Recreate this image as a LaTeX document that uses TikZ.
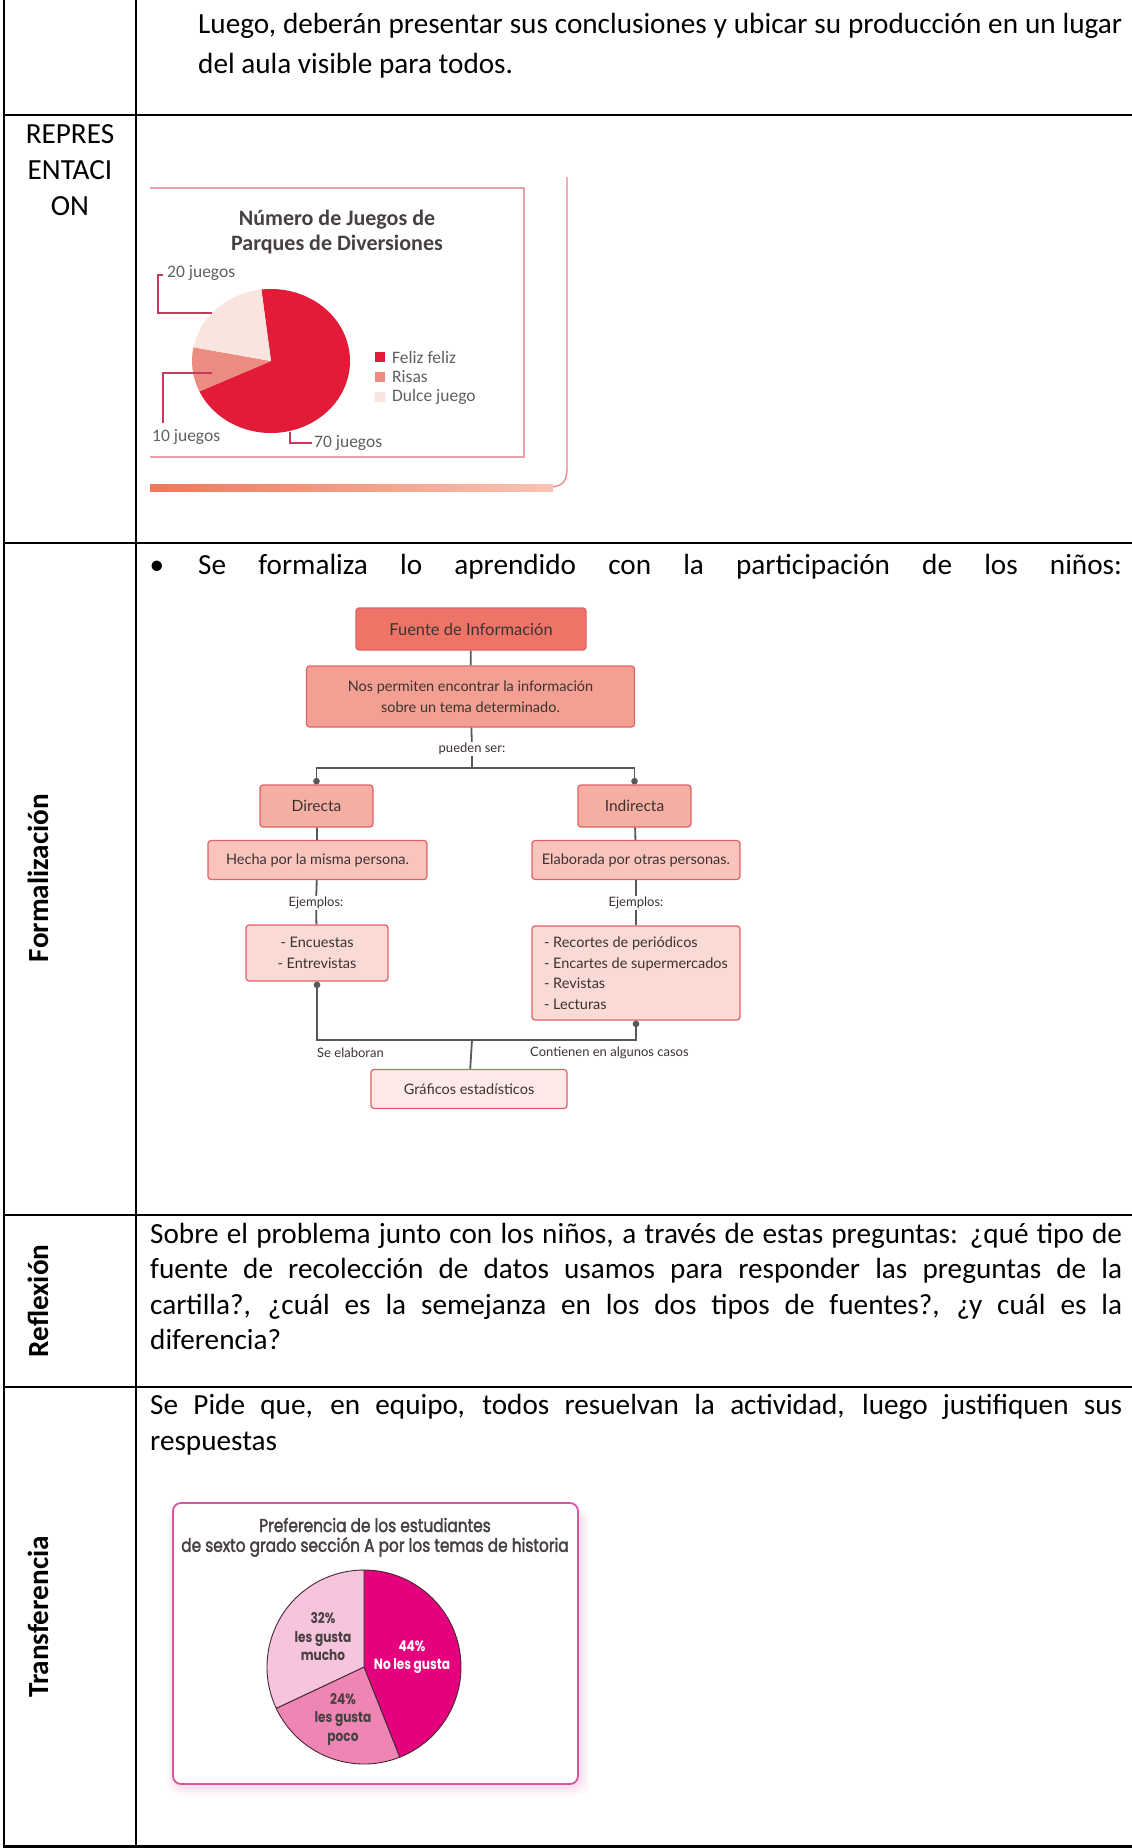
\documentclass[tikz,border=0pt]{standalone}
\usepackage{fontspec}
\setmainfont{Carlito}
\newfontfamily\flowfont{Lato}
\newfontfamily\geofont[FakeStretch=0.82]{Poppins}
\newfontfamily\geohead[FakeStretch=0.83,FakeBold=2]{Poppins}
\usetikzlibrary{arrows.meta}

% chart of the amusement park rides
\definecolor{pieRed}{RGB}{226,28,56}
\definecolor{pieSalmon}{RGB}{236,140,128}
\definecolor{pieBlush}{RGB}{250,228,224}
\definecolor{chartFrame}{RGB}{232,160,170}
\definecolor{leadCol}{RGB}{196,58,92}
\definecolor{bandL}{RGB}{238,120,90}
\definecolor{bandR}{RGB}{248,196,180}
\definecolor{titleGray}{RGB}{72,64,64}
\definecolor{labelGray}{RGB}{100,94,94}
% concept map
\definecolor{boxLine}{RGB}{222,96,104}
\definecolor{fillA}{RGB}{238,116,104}
\definecolor{fillB}{RGB}{243,160,146}
\definecolor{fillC}{RGB}{245,174,162}
\definecolor{fillD}{RGB}{248,196,188}
\definecolor{fillE}{RGB}{250,218,212}
\definecolor{fillF}{RGB}{253,234,230}
\definecolor{connCol}{RGB}{88,88,88}
\definecolor{flowText}{RGB}{60,50,50}
% preference chart
\definecolor{magPie}{RGB}{229,0,125}
\definecolor{midPie}{RGB}{238,133,181}
\definecolor{lightPie}{RGB}{246,196,221}
\definecolor{pieEdge}{RGB}{70,40,50}
\definecolor{frameMag}{RGB}{214,84,160}
\definecolor{glowPink}{RGB}{240,150,200}

\begin{document}
\begin{tikzpicture}[x=1pt,y=-1pt,
  rule/.style={line width=2.6pt, draw=black},
  body/.style={inner sep=0pt, anchor=base west, font=\fontsize{29.2}{35.6}\selectfont},
  side/.style={inner sep=0pt, rotate=90, font=\fontsize{29.2}{35.6}\selectfont\bfseries},
  ctitle/.style={inner sep=0pt, text=titleGray, font=\fontsize{22}{25}\selectfont\bfseries},
  clabel/.style={inner sep=0pt, anchor=west, text=labelGray, font=\fontsize{17.5}{20}\selectfont},
  lead/.style={draw=leadCol, line width=1.6pt},
  fbox/.style={draw=boxLine, line width=1.2pt, rounded corners=3pt, inner sep=0pt,
    align=center, text=flowText, font=\flowfont\fontsize{14.5}{20.5}\selectfont},
  ftag/.style={inner sep=1pt, text=flowText, font=\flowfont\fontsize{13}{15}\selectfont},
  conn/.style={draw=connCol, line width=1.8pt},
  dot/.style={-{Circle[length=6.5pt]}},
  pielab/.style={inner sep=0pt, align=center, font=\geofont\bfseries\fontsize{14.8}{18.5}\selectfont},
  wedge/.style={draw=pieEdge, line width=0.9pt}
]
\useasboundingbox (0,0) rectangle (1132,1848);

% ---------- table grid ----------
\draw[rule] (4,0) -- (4,1848);
\draw[rule] (136,0) -- (136,1848);
\foreach \yy in {115,543,1215,1387}
  \draw[rule] (2.7,\yy) -- (1132,\yy);
\draw[rule] (2.7,1846.7) -- (1132,1846.7);

% ---------- row 1 ----------
\node[body] (r1a) at (198,33) {\makebox[924pt][s]{Luego, deberán presentar sus conclusiones y ubicar su producción en un lugar}};
\node[body] (r1b) at (198,73) {del aula visible para todos.};

% ---------- row 2: representation ----------
\node[body, anchor=base] (rep1) at (70,143) {REPRES};
\node[body, anchor=base] (rep2) at (70,179) {ENTACI};
\node[body, anchor=base] (rep3) at (70,215) {ON};

% chart frame and page edge
\draw[draw=chartFrame, line width=1.5pt] (150,188) -- (524,188) -- (524,457) -- (150,457);
\draw[draw=chartFrame!80!red, line width=1.3pt] (567,177) -- (567,468) .. controls (567,482) and (562,486) .. (552,487);
\shade[left color=bandL, right color=bandR] (150,484) rectangle (553,491);

\node[ctitle] (t1a) at (337,220) {Número de Juegos de};
\node[ctitle] (t1b) at (337,245) {Parques de Diversiones};

% pie: 70 / 10 / 20
\begin{scope}[shift={(271,361)}, y=1pt]
  \fill[pieRed] (0,0) -- (97:79 and 72) arc[start angle=97, end angle=-155, x radius=79, y radius=72] -- cycle;
  \fill[pieSalmon] (0,0) -- (205:79 and 72) arc[start angle=205, end angle=169, x radius=79, y radius=72] -- cycle;
  \fill[pieBlush] (0,0) -- (169:79 and 72) arc[start angle=169, end angle=97, x radius=79, y radius=72] -- cycle;
\end{scope}

\node[clabel] (l20) at (167,273) {20 juegos};
\node[clabel] (l10) at (152,437) {10 juegos};
\node[clabel] (l70) at (314,443) {70 juegos};
\draw[lead] (163,275) -- (158,275) -- (158,313) -- (212,313);
\draw[lead] (212,373) -- (163,373) -- (163,423);
\draw[lead] (290,432) -- (290,443) -- (312,443);

\fill[pieRed] (375,352) rectangle (385,362);
\fill[pieSalmon] (375,372) rectangle (385,382);
\fill[pieBlush] (375,392) rectangle (385,402);
\node[clabel] (g1) at (392,357) {Feliz feliz};
\node[clabel] (g2) at (392,377) {Risas};
\node[clabel] (g3) at (392,397) {Dulce juego};

% ---------- row 3: formalisation ----------
\node[side] (lblF) at (38,878) {Formalización};
\node[body, anchor=base] (bul) at (157,574) {\textbullet};
\node[body] (r3) at (198,574) {\makebox[924pt][s]{Se formaliza lo aprendido con la participación de los niños:}};

% concept map
\node[fbox, fill=fillA, minimum width=230pt, minimum height=42pt, font=\flowfont\fontsize{16.5}{20}\selectfont] (fuente) at (471,629) {Fuente de Información};
\node[fbox, fill=fillB, minimum width=328pt, minimum height=61pt] (nos) at (470.5,696.5) {Nos permiten encontrar la información\\sobre un tema determinado.};
\node[ftag] (pueden) at (472,749) {pueden ser:};
\coordinate (split) at (472,768);
\node[fbox, fill=fillC, minimum width=113pt, minimum height=42pt, font=\flowfont\fontsize{15.5}{20}\selectfont] (directa) at (316.5,806) {Directa};
\node[fbox, fill=fillC, minimum width=113pt, minimum height=42pt, font=\flowfont\fontsize{15.5}{20}\selectfont] (indirecta) at (634.5,806) {Indirecta};
\node[fbox, fill=fillD, minimum width=219pt, minimum height=39pt] (hecha) at (317.5,860) {Hecha por la misma persona.};
\node[fbox, fill=fillD, minimum width=208pt, minimum height=39pt] (elab) at (636,860) {Elaborada por otras personas.};
\node[ftag] (ej1) at (316,903) {Ejemplos:};
\node[ftag] (ej2) at (636,903) {Ejemplos:};
\node[fbox, fill=fillE, minimum width=142pt, minimum height=56pt] (encu) at (317,953) {- Encuestas\\- Entrevistas};
\node[fbox, fill=fillE, minimum width=208pt, minimum height=94pt, align=left] (lista) at (636,973) {- Recortes de periódicos\\- Encartes de supermercados\\- Revistas\\- Lecturas};
\coordinate (join) at (472,1040);
\node[fbox, fill=fillF, minimum width=196pt, minimum height=39pt] (graf) at (469,1089) {Gráficos estadísticos};
\node[ftag, anchor=west, inner sep=0pt] (sel) at (317,1053) {Se elaboran};
\node[ftag, anchor=west, inner sep=0pt] (cont) at (530,1053) {Contienen en algunos casos};

\draw[conn] (fuente) -- (nos);
\draw[conn] (nos) -- (pueden);
\draw[conn] (pueden) -- (split);
\draw[conn, dot] (split) -| (directa.north);
\draw[conn, dot] (split) -| (indirecta.north);
\draw[conn] (directa) -- (hecha);
\draw[conn] (indirecta) -- (elab);
\draw[conn] (hecha) -- (ej1);
\draw[conn] (elab) -- (ej2);
\draw[conn] (ej1) -- (encu);
\draw[conn] (ej2) -- (lista);
\draw[conn, {Circle[length=6.5pt]}-] (encu.south) |- (join);
\draw[conn, {Circle[length=6.5pt]}-] (lista.south) |- (join);
\draw[conn] (join) -- (graf);

% ---------- row 4: reflection ----------
\node[side] (lblR) at (38,1301) {Reflexión};
\node[body] (r4a) at (150,1243) {\makebox[972pt][s]{Sobre el problema junto con los niños, a través de estas preguntas: ¿qué tipo de}};
\node[body] (r4b) at (150,1278.5) {\makebox[972pt][s]{fuente de recolección de datos usamos para responder las preguntas de la}};
\node[body] (r4c) at (150,1314) {\makebox[972pt][s]{cartilla?, ¿cuál es la semejanza en los dos tipos de fuentes?, ¿y cuál es la}};
\node[body] (r4d) at (150,1349.5) {diferencia?};

% ---------- row 5: transfer ----------
\node[side] (lblT) at (38,1617) {Transferencia};
\node[body] (r5a) at (150,1414) {\makebox[972pt][s]{Se Pide que, en equipo, todos resuelvan la actividad, luego justifiquen sus}};
\node[body] (r5b) at (150,1450) {respuestas};

% preference chart card with soft pink glow
\foreach \k/\op in {9/0.07,6/0.10,3/0.16}
  \fill[glowPink, opacity=\op, rounded corners=12pt] (176-\k,1510) rectangle (580+\k,1786+\k);
\draw[draw=frameMag, line width=1.8pt, fill=white, rounded corners=8pt] (173,1503) rectangle (578,1784);
\node[inner sep=0pt, text=titleGray, font=\geohead\fontsize{18.5}{22}\selectfont] (t2a) at (375,1525) {Preferencia de los estudiantes};
\node[inner sep=0pt, text=titleGray, font=\geohead\fontsize{18.5}{22}\selectfont] (t2b) at (375,1547) {de sexto grado sección A por los temas de historia};

\begin{scope}[shift={(364,1667)}, y=1pt]
  \filldraw[wedge, fill=magPie] (0,0) -- (90:97) arc[start angle=90, end angle=-68.4, radius=97] -- cycle;
  \filldraw[wedge, fill=midPie] (0,0) -- (-68.4:97) arc[start angle=-68.4, end angle=-154.8, radius=97] -- cycle;
  \filldraw[wedge, fill=lightPie] (0,0) -- (205.2:97) arc[start angle=205.2, end angle=90, radius=97] -- cycle;
\end{scope}
\node[pielab, text=titleGray] (p32) at (323,1637) {32\%\\les gusta\\mucho};
\node[pielab, text=white] (p44) at (412,1657) {44\%\\No les gusta};
\node[pielab, text=titleGray] (p24) at (343,1719) {24\%\\les gusta\\poco};

\end{tikzpicture}
\end{document}
